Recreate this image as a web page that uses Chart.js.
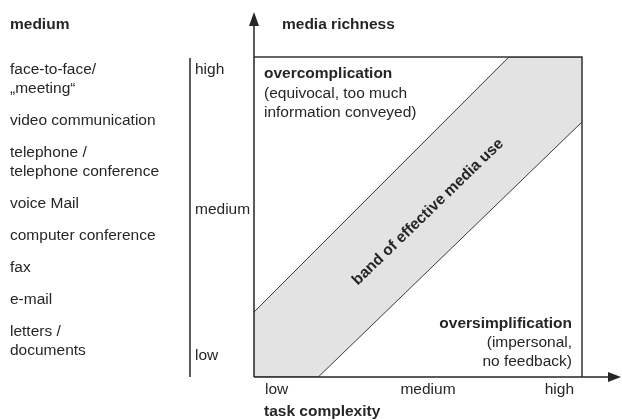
<!DOCTYPE html>
<html>
<head>
<meta charset="utf-8">
<script src="https://cdn.jsdelivr.net/npm/chart.js@4.4.0/dist/chart.umd.min.js"></script>
<style>
body{margin:0;background:#fff;}
#wrap{width:622px;height:420px;}
</style>
</head>
<body>
<div id="wrap"><canvas id="c"></canvas></div>
<script>
// left column: media, each entry may wrap on two lines
var mediaList = [
  ["face-to-face/", "\u201emeeting\u201c"],
  ["video communication"],
  ["telephone /", "telephone conference"],
  ["voice Mail"],
  ["computer conference"],
  ["fax"],
  ["e-mail"],
  ["letters /", "documents"]
];
var richnessTicks = ["high", "medium", "low"];
var complexityTicks = ["low", "medium", "high"];
// band of effective media use (task complexity 0..1, media richness 0..1)
var bandUpper = [{x:0, y:0.203}, {x:0.777, y:1}, {x:1, y:1}];
var bandLower = [{x:0, y:0}, {x:0.196, y:0}, {x:1, y:0.797}];

var ink = '#262626';
var font = '"Liberation Sans", Arial, sans-serif';

var drawingPlugin = {
  id: 'drawing',
  afterDatasetsDraw: function(chart) {
    var ctx = chart.ctx;
    var xs = chart.scales.x, ys = chart.scales.y;
    var L = xs.getPixelForValue(0), R = xs.getPixelForValue(1);
    var T = ys.getPixelForValue(1), B = ys.getPixelForValue(0);
    ctx.save();
    // frame
    ctx.strokeStyle = '#333';
    ctx.lineWidth = 1.5;
    ctx.beginPath();
    ctx.moveTo(L, T); ctx.lineTo(R, T); ctx.lineTo(R, B);
    ctx.stroke();
    // axes with arrows
    ctx.strokeStyle = ink;
    ctx.fillStyle = ink;
    ctx.lineWidth = 1.5;
    ctx.beginPath();
    ctx.moveTo(L, B); ctx.lineTo(L, 20);
    ctx.moveTo(L, B); ctx.lineTo(612, B);
    ctx.stroke();
    ctx.beginPath();
    ctx.moveTo(L, 12); ctx.lineTo(L - 5, 26); ctx.lineTo(L + 5, 26); ctx.closePath();
    ctx.fill();
    ctx.beginPath();
    ctx.moveTo(621, B); ctx.lineTo(608, B - 5); ctx.lineTo(608, B + 5); ctx.closePath();
    ctx.fill();
    // richness scale line
    ctx.beginPath();
    ctx.moveTo(190, T + 1); ctx.lineTo(190, B);
    ctx.stroke();

    ctx.textBaseline = 'middle';
    ctx.textAlign = 'left';
    ctx.font = 'bold 15.5px ' + font;
    ctx.fillText('medium', 10, 25);
    ctx.fillText('media richness', 282, 25);
    ctx.fillText('overcomplication', 264, 74);
    ctx.fillText('task complexity', 264, 412);
    ctx.textAlign = 'right';
    ctx.fillText('oversimplification', 572, 324);

    ctx.font = '15.5px ' + font;
    ctx.fillText('(impersonal,', 572, 343);
    ctx.fillText('no feedback)', 572, 362);
    ctx.textAlign = 'left';
    ctx.fillText('(equivocal, too much', 264, 94);
    ctx.fillText('information conveyed)', 264, 113);

    // media list
    var y = 70;
    mediaList.forEach(function(item) {
      item.forEach(function(line, i) {
        ctx.fillText(line, 10, y + i * 19);
      });
      y += (item.length - 1) * 19 + 32;
    });

    // richness ticks
    var ry = [70, 210, 356];
    richnessTicks.forEach(function(t, i) {
      ctx.fillText(t, 195, ry[i]);
    });

    // complexity ticks
    ctx.fillText(complexityTicks[0], 265, 390);
    ctx.textAlign = 'center';
    ctx.fillText(complexityTicks[1], 428, 390);
    ctx.textAlign = 'right';
    ctx.fillText(complexityTicks[2], 574, 390);

    // band label
    ctx.translate(428, 212);
    ctx.rotate(-44 * Math.PI / 180);
    ctx.textAlign = 'center';
    ctx.font = 'bold 15.5px ' + font;
    ctx.fillText('band of effective media use', 0, 0);
    ctx.restore();
  }
};

new Chart(document.getElementById('c'), {
  type: 'scatter',
  data: {
    datasets: [{
      label: 'lower',
      data: bandLower,
      showLine: true,
      borderColor: '#3a3a3a',
      borderWidth: 1,
      pointRadius: 0,
      fill: false
    }, {
      label: 'upper',
      data: bandUpper,
      showLine: true,
      borderColor: '#3a3a3a',
      borderWidth: 1,
      pointRadius: 0,
      backgroundColor: '#e3e3e3',
      fill: '-1'
    }]
  },
  options: {
    responsive: true,
    maintainAspectRatio: false,
    animation: false,
    layout: { padding: { left: 254, top: 57, right: 40, bottom: 43 } },
    scales: {
      x: { type: 'linear', min: 0, max: 1, display: false },
      y: { type: 'linear', min: 0, max: 1, display: false }
    },
    plugins: {
      legend: { display: false },
      tooltip: { enabled: false }
    }
  },
  plugins: [drawingPlugin]
});
</script>
</body>
</html>
